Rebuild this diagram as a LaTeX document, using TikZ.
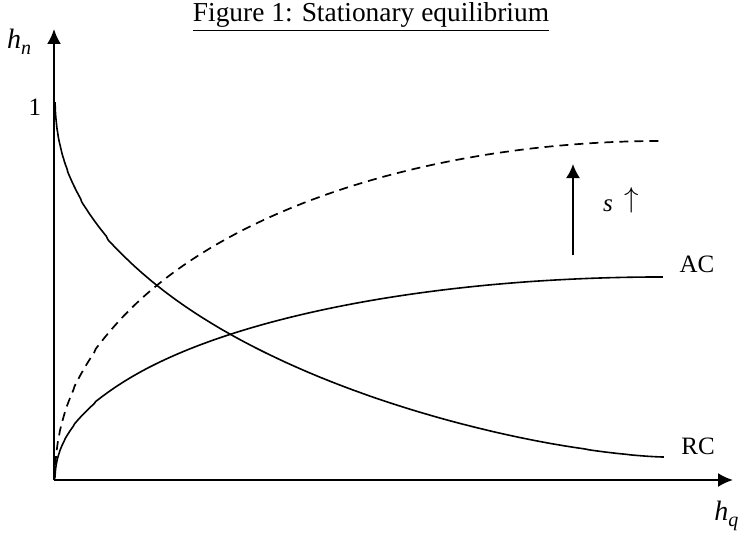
\documentclass[tikz,border=0pt]{standalone}
\usepackage{fontspec}
\setmainfont{Liberation Serif}
\usetikzlibrary{arrows.meta}
\tikzset{
  axis/.style={line width=1pt,-{Latex[length=7.5pt,width=7pt]}},
  curve/.style={line width=0.8pt},
  shiftcurve/.style={line width=0.85pt,dash pattern=on 4.5pt off 3pt},
  lbl/.style={inner sep=0pt,font=\fontsize{12.5}{14}\selectfont},
  titlelbl/.style={inner sep=0pt,font=\fontsize{13.7}{15}\selectfont},
  shiftarrow/.style={line width=0.9pt,-{Latex[length=7pt,width=7pt]}}
}
\begin{document}
\begin{tikzpicture}[x=0.5pt,y=-0.5pt]
\useasboundingbox (0,0) rectangle (754,535);
% title
\node[titlelbl] (title) at (371,17) {\underline{Figure 1: Stationary equilibrium}};
% axes
\coordinate (O) at (54,480);
\coordinate (ytop) at (54,29);
\coordinate (xend) at (733,480);
\draw[axis] (O) -- (ytop);
\draw[axis] (O) -- (xend);
\node[lbl,font=\fontsize{14}{15}\selectfont] (hn) at (19,42) {\textit{h}\raisebox{-0.5ex}{\fontsize{10}{11}\selectfont\textit{n}}};
\node[lbl] (one) at (35,107) {1};
\node[lbl,anchor=west,font=\fontsize{14}{15}\selectfont] (hq) at (714,516) {\textit{h}\raisebox{-0.5ex}{\fontsize{10}{11}\selectfont\textit{q}}};
% RC curve
\draw[curve] plot[domain=0.01:0.9999,samples=220,variable=\s]
  ({55+610*\s*\s},{457-362*(1-pow(1-pow(1-\s*\s,1.5),0.45))});
\node[lbl] (RC) at (698,446) {RC};
% AC curve
\draw[curve] (O) -- plot[domain=0.01:1,samples=200,variable=\s]
  ({55+608*\s*\s},{480-203*pow(\s*\s*(2-\s*\s),0.47)});
\node[lbl] (AC) at (697,264) {AC};
% shifted AC (dashed)
\draw[shiftcurve] (O) -- plot[domain=0.01:1,samples=200,variable=\s]
  ({55+608*\s*\s},{480-339*pow(\s*\s*(2-\s*\s),0.47)});
% shift arrow
\coordinate (sa) at (573,255);
\coordinate (sb) at (573,164);
\draw[shiftarrow] (sa) -- (sb);
\node[lbl] (s) at (608,206) {\textit{s}};
\node[lbl,font=\fontsize{15}{16}\selectfont] (up) at (632,200) {$\uparrow$};
\end{tikzpicture}
\end{document}
